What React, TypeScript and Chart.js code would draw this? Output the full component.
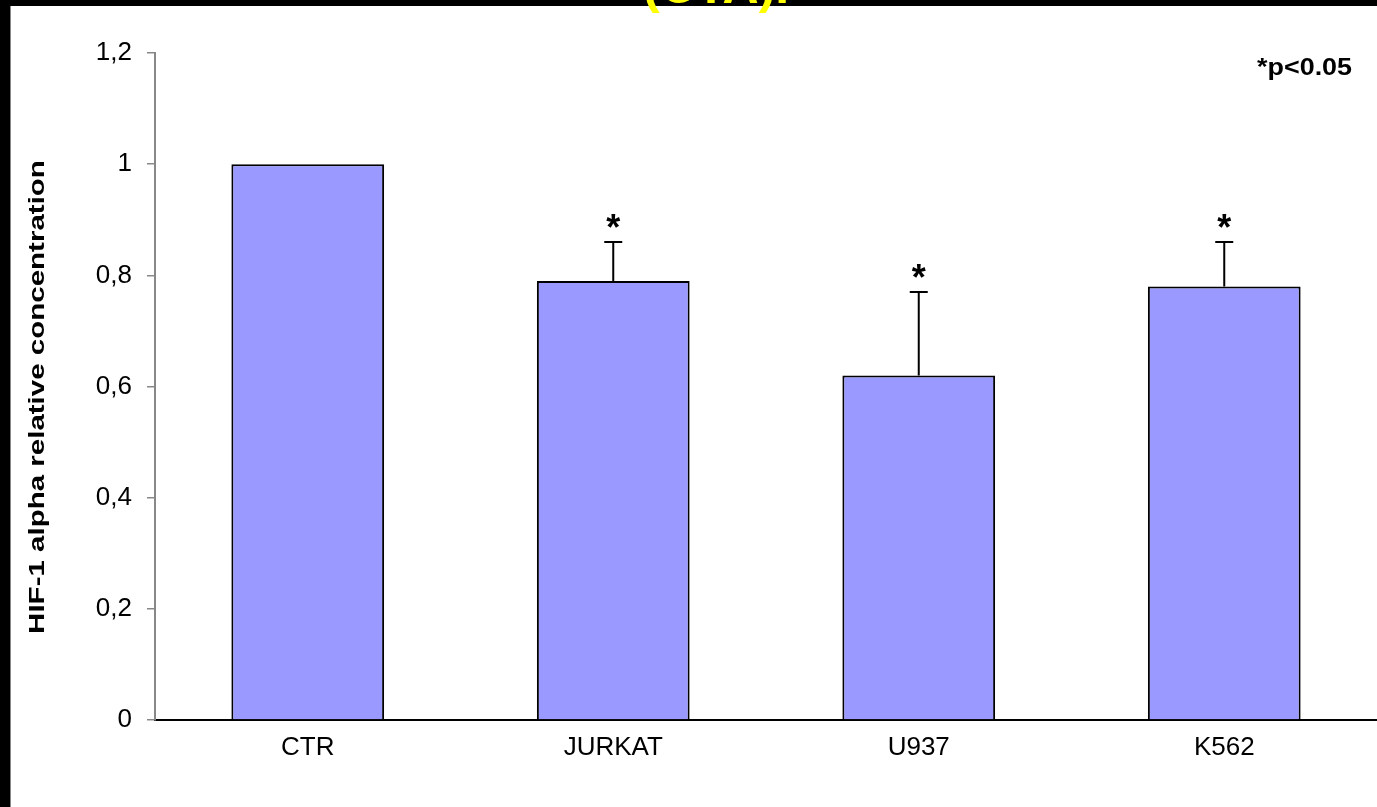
import React, { useEffect, useRef } from "react";
import { Chart, registerables } from "chart.js";

Chart.register(...registerables);

const categories = ["CTR", "JURKAT", "U937", "K562"];
const values = [1, 0.79, 0.62, 0.78];
const errors = [0, 0.07, 0.15, 0.08];
const significant = [false, true, true, true];
const yTickLabels = ["0", "0,2", "0,4", "0,6", "0,8", "1", "1,2"];
const yTitle = "HIF-1 alpha relative concentration";
const noteText = "*p<0.05";
const titleText = "(CTA).";

const FONT = "'Liberation Sans', Arial, sans-serif";

const annotations = {
  id: "annotations",
  afterDatasetsDraw(chart: any) {
    const ctx = chart.ctx;
    const meta = chart.getDatasetMeta(0);
    const ys = chart.scales.y;
    ctx.save();
    meta.data.forEach((bar: any, i: number) => {
      let top = ys.getPixelForValue(values[i]);
      if (errors[i] > 0) {
        const base = ys.getPixelForValue(values[i]);
        top = ys.getPixelForValue(values[i] + errors[i]);
        ctx.strokeStyle = "#000";
        ctx.lineWidth = 2;
        ctx.beginPath();
        ctx.moveTo(bar.x, base);
        ctx.lineTo(bar.x, top);
        ctx.moveTo(bar.x - 9, top);
        ctx.lineTo(bar.x + 9, top);
        ctx.stroke();
      }
      if (significant[i]) {
        ctx.fillStyle = "#000";
        ctx.font = `bold 36px ${FONT}`;
        ctx.textAlign = "center";
        ctx.textBaseline = "alphabetic";
        ctx.fillText("*", bar.x, top - 2);
      }
    });
    ctx.restore();

    // y-axis title (glyphs wide along the baseline, as in the reference)
    ctx.save();
    ctx.translate(38, 397);
    ctx.rotate(-Math.PI / 2);
    ctx.scale(1, 0.74);
    ctx.fillStyle = "#000";
    ctx.font = `bold 29.5px ${FONT}`;
    ctx.textAlign = "center";
    ctx.textBaseline = "middle";
    ctx.fillText(yTitle, 0, 0);
    ctx.restore();

    // significance note
    ctx.save();
    ctx.translate(1352, 68);
    ctx.scale(1.12, 1);
    ctx.fillStyle = "#000";
    ctx.font = `bold 24px ${FONT}`;
    ctx.textAlign = "right";
    ctx.textBaseline = "middle";
    ctx.fillText(noteText, 0, 0);
    ctx.restore();
  },
};

export default function App() {
  const canvasRef = useRef<HTMLCanvasElement | null>(null);

  useEffect(() => {
    const canvas = canvasRef.current;
    if (!canvas) return;
    const chart = new Chart(canvas, {
      type: "bar",
      data: {
        labels: categories,
        datasets: [
          {
            data: values,
            backgroundColor: "#9999FF",
            borderColor: "#000000",
            borderWidth: 2,
            barPercentage: 0.5,
            categoryPercentage: 1.0,
          },
        ],
      },
      options: {
        responsive: false,
        animation: false,
        events: [],
        layout: { padding: { left: 0, top: 53, right: 0, bottom: 0 } },
        plugins: {
          legend: { display: false },
          tooltip: { enabled: false },
          title: { display: false },
        },
        scales: {
          x: {
            grid: { display: false },
            border: { display: true, color: "#000", width: 2 },
            ticks: {
              color: "#000",
              padding: 4,
              font: { family: FONT, size: 26 },
              maxRotation: 0,
            },
            afterFit(scale: any) {
              scale.height = 87;
            },
          },
          y: {
            min: 0,
            max: 1.2,
            grid: {
              drawOnChartArea: false,
              drawTicks: true,
              tickLength: 8,
              color: "#888",
              lineWidth: 1.5,
            },
            border: { display: true, color: "#888", width: 2 },
            ticks: {
              stepSize: 0.2,
              color: "#000",
              padding: 15,
              font: { family: FONT, size: 26 },
              callback: (_v: any, i: number) => yTickLabels[i],
            },
            afterFit(scale: any) {
              scale.width = 155;
            },
          },
        },
      },
      plugins: [annotations],
    });
    return () => chart.destroy();
  }, []);

  return (
    <div
      style={{
        position: "fixed",
        left: 0,
        top: 0,
        width: 1377,
        height: 807,
        background: "#000",
        overflow: "hidden",
      }}
    >
      <div
        style={{
          position: "absolute",
          left: 10,
          top: 6,
          right: 0,
          bottom: 0,
          background: "#fff",
          borderLeft: "1px solid #888",
        }}
      />
      <canvas
        ref={canvasRef}
        width={1377}
        height={807}
        style={{ position: "absolute", left: 0, top: 0 }}
      />
      <div
        style={{
          position: "absolute",
          left: 643,
          top: -39,
          fontFamily: FONT,
          fontWeight: "bold",
          fontSize: 50,
          lineHeight: 1,
          color: "#FFFF00",
          whiteSpace: "nowrap",
        }}
      >
        {titleText}
      </div>
    </div>
  );
}
